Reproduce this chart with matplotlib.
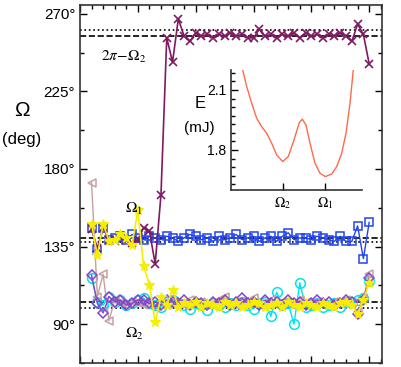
import numpy as np
import matplotlib
matplotlib.use("Agg")
import matplotlib.pyplot as plt
from matplotlib.ticker import MultipleLocator, AutoMinorLocator, FixedLocator

plt.rcParams["font.family"] = ["Liberation Sans", "DejaVu Sans"]
plt.rcParams["mathtext.fontset"] = "stix"

# step index (x positions 2..50)
steps = list(range(2, 51))

blue_sq = [146, 133, 146, 139, 140, 141, 139, 142, 140, 139,
           141, 140, 139, 141, 140, 138, 140, 142, 141, 139,
           140, 138, 141, 139, 140, 142, 139, 140, 141, 138,
           140, 141, 138, 141, 143, 139, 140, 140, 139, 141,
           140, 139, 138, 141, 138, 138, 147, 128, 149]

maroon_x = [145, 134, 146, 139, 138, 141, 139, 137, 139, 146,
            144, 125, 165, 256, 242, 267, 257, 254, 259, 257,
            258, 256, 258, 257, 259, 257, 258, 256, 256, 261,
            257, 258, 256, 258, 257, 259, 256, 259, 257, 258,
            256, 258, 257, 259, 257, 254, 264, 258, 241]

yellow_star = [148, 130, 148, 138.5, 139, 142.5, 140, 136, 156, 123.5,
               113, 91, 106, 101, 110, 100, 102, 101, 103, 100,
               102, 101, 100, 103, 101, 102, 100, 101, 103, 102,
               100, 101, 102, 100, 103, 101, 100, 102, 101, 100,
               102, 101, 100, 102, 103, 101, 96, 104, 114]

cyan_circ = [117, 103, 101, 106, 103, 104, 101, 102, 104, 105,
             102, 101, 100, 103, 104, 102, 101, 99, 102, 101,
             98.5, 102, 101, 100, 102, 101, 103, 101, 99, 102,
             103, 94.5, 108.5, 101, 102, 90, 114, 100, 101, 102,
             100, 101, 102, 100, 103, 103, 104, 105, 115]

purple_dia = [118.5, 102, 96.5, 106, 103, 104, 101, 102, 104, 104,
              102, 103, 101, 104, 103, 102, 104, 101, 103, 102,
              101, 103, 102, 104, 101, 103, 105, 102, 103, 101,
              104, 102, 103, 101, 104, 102, 103, 101, 102, 104,
              102, 103, 101, 102, 104, 103, 96, 104, 116.5]

rosy_tri = [172, 106, 119, 92, 104, 102, 101, 103, 102, 101,
            103, 100, 102, 101, 103, 102, 101, 104, 102, 103,
            101, 102, 104, 106, 102, 101, 103, 102, 105, 101,
            102, 104, 101, 103, 102, 101, 104, 102, 101, 103,
            102, 101, 103, 102, 104, 102, 97, 105, 119]

# reference angles (deg)
omega1_dash, omega1_dot = 140.2, 137.8
omega2_dash, omega2_dot = 102.7, 99.4

# inset energy curve
inset_ang = [67.5, 71.0, 75.4, 79.8, 84.2, 88.6, 93.0, 97.4, 102.7, 107.6,
             112.6, 117.3, 120.0, 123.2, 126.7, 131.1, 135.5, 140.2, 145.8,
             150.2, 154.6, 158.4, 161.9, 164.8]
inset_E = [2.20, 2.117, 2.034, 1.959, 1.917, 1.884, 1.834, 1.775, 1.742, 1.767,
           1.850, 1.937, 1.954, 1.925, 1.834, 1.734, 1.684, 1.667, 1.680,
           1.717, 1.784, 1.884, 2.034, 2.20]

fig = plt.figure(figsize=(4.02, 3.67), dpi=100)
ax = fig.add_axes([0.199, 0.011, 0.751, 0.975])

for y, ls in [(360 - omega2_dash, "--"), (360 - omega2_dot, ":"),
              (omega1_dash, "--"), (omega1_dot, ":"),
              (omega2_dash, "--"), (omega2_dot, ":")]:
    ax.axhline(y, color="black", ls=ls, lw=1.2, zorder=1)

ax.plot(steps, blue_sq, color="#2244ee", marker="s", mfc="none", ms=6, mew=1.1, lw=1.0)
ax.plot(steps, maroon_x, color="#7e1a62", marker="x", ms=6, mew=1.2, lw=1.2)
ax.plot(steps, cyan_circ, color="#00e4ee", marker="o", mfc="none", ms=7, mew=1.1, lw=1.0)
ax.plot(steps, rosy_tri, color="#c8a0a0", marker="<", mfc="none", ms=6, mew=1.1, lw=1.0)
ax.plot(steps, purple_dia, color="#8844cc", marker="D", mfc="none", ms=5, mew=1.1, lw=1.0)
ax.plot(steps, yellow_star, color="#f5ee00", marker="*", ms=7, mew=0.8, lw=1.2)

ax.set_xlim(0, 52.2)
ax.set_ylim(67.5, 275)
ax.xaxis.set_major_locator(MultipleLocator(10))
ax.xaxis.set_minor_locator(MultipleLocator(2))
ax.set_xticklabels([])
ax.yaxis.set_minor_locator(MultipleLocator(22.5))
ax.set_yticks([90, 135, 180, 225, 270])
ax.set_yticklabels(["90°", "135°", "180°", "225°", "270°"], fontsize=11)
ax.tick_params(which="both", direction="in", top=True, right=True, width=1.0)
ax.tick_params(which="major", length=5)
ax.tick_params(which="minor", length=3)
for s in ax.spines.values():
    s.set_linewidth(1.2)
    s.set_color("#333333")

ax.text(3.6, 245.2, r"$2\pi\!-\!\Omega_2$", fontsize=11, va="center")
ax.text(7.7, 157, r"$\Omega_1$", fontsize=11, va="center")
ax.text(7.7, 84.5, r"$\Omega_2$", fontsize=11, va="center")

fig.text(0.055, 0.70, "Ω", fontsize=15, ha="center", va="center")
fig.text(0.055, 0.62, "(deg)", fontsize=12, ha="center", va="center")

# inset
ins = fig.add_axes([0.5746, 0.4823, 0.326, 0.327])
ins.plot(inset_ang, inset_E, color="#ff6a4a", lw=1.0)
ins.set_xlim(57.2, 172.5)
ins.set_ylim(1.6, 2.2)
ins.spines["top"].set_visible(False)
ins.spines["right"].set_visible(False)
for s in ["left", "bottom"]:
    ins.spines[s].set_linewidth(1.2)
    ins.spines[s].set_color("#333333")
ins.xaxis.set_major_locator(FixedLocator([omega2_dash, omega1_dash]))
ins.set_xticklabels([r"$\Omega_2$", r"$\Omega_1$"], fontsize=10)
ins.yaxis.set_minor_locator(AutoMinorLocator(7))
ins.set_yticks([1.8, 2.1])
ins.set_yticklabels(["1.8", "2.1"], fontsize=10)
ins.tick_params(which="both", direction="in", width=1.0)
ins.tick_params(which="major", length=5)
ins.tick_params(which="minor", length=3)
fig.text(0.497, 0.717, "E", fontsize=12, ha="center", va="center")
fig.text(0.495, 0.651, "(mJ)", fontsize=11, ha="center", va="center")

fig.savefig("out.png", dpi=100)
